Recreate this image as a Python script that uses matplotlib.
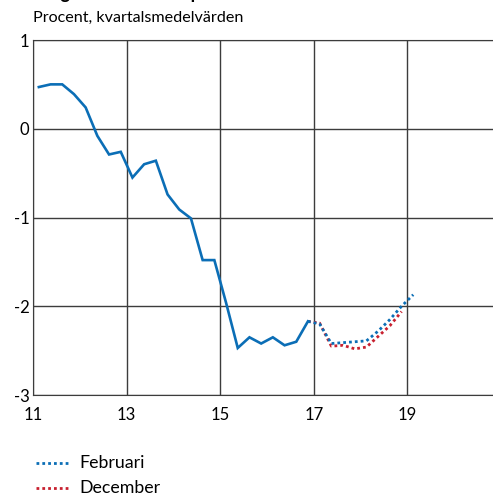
import matplotlib
matplotlib.use("Agg")
import matplotlib.pyplot as plt
import numpy as np

plt.rcParams['font.family'] = ['Lato', 'DejaVu Sans']

# Quarterly data (year fraction, mid-quarter)
hist_start = 11.125
hist_vals = [0.47, 0.50, 0.50, 0.39, 0.24, -0.08, -0.29, -0.26, -0.55, -0.40,
             -0.36, -0.74, -0.91, -1.01, -1.48, -1.48, -1.96, -2.47, -2.35, -2.42,
             -2.35, -2.44, -2.40, -2.17]
feb_vals = [-2.17, -2.20, -2.42, -2.41, -2.40, -2.39, -2.28, -2.15, -2.00, -1.87]
dec_vals = [-2.17, -2.19, -2.45, -2.44, -2.48, -2.46, -2.34, -2.22, -2.06]
fc_start = 16.875

x_ticks = [11, 13, 15, 17, 19]
y_ticks = [1, 0, -1, -2, -3]

blue = '#0b6eb6'
red = '#c8202f'

x_hist = hist_start + 0.25 * np.arange(len(hist_vals))
x_feb = fc_start + 0.25 * np.arange(len(feb_vals))
x_dec = fc_start + 0.25 * np.arange(len(dec_vals))

fig = plt.figure(figsize=(4.93, 4.95), dpi=100)
ax = fig.add_axes([33/493, 1-395/495, 1-33/493, (395-40)/495])

ax.plot(x_dec, dec_vals, color=red, lw=2.0, linestyle=(0, (1, 1.1)), zorder=3)
ax.plot(x_feb, feb_vals, color=blue, lw=2.0, linestyle=(0, (1, 1.1)), zorder=4)
ax.plot(x_hist, hist_vals, color=blue, lw=1.9, solid_joinstyle='miter', zorder=5)

ax.set_xlim(11, 11 + (493-33)/46.8)
ax.set_ylim(-3, 1)
ax.set_xticks(x_ticks)
ax.set_xticklabels([str(t) for t in x_ticks])
ax.set_yticks(y_ticks)
ax.set_yticklabels([str(t) for t in y_ticks])
ax.tick_params(length=0, labelsize=12, colors='black')
ax.tick_params(axis='x', pad=9)
ax.tick_params(axis='y', pad=2.5)
ax.grid(True, color='#3c3c3c', lw=1.0)
ax.set_axisbelow(True)
ax.spines['right'].set_visible(False)
for s in ['top', 'left', 'bottom']:
    ax.spines[s].set_color('#3c3c3c')

fig.text(33/493, 1-18/495, 'Procent, kvartalsmedelvärden', fontsize=11.6,
         ha='left', va='center')
fig.text(33/493, 1+6/495, 'Diagram 10. Real reporänta', fontsize=13, fontweight='bold',
         ha='left', va='center')

# Legend
for i, (lab, col) in enumerate([('Februari', blue), ('December', red)]):
    yy = 1 - (463 + i*25)/495
    fig.add_artist(plt.Line2D([36/493, 70/493], [yy, yy], color=col, lw=2.0,
                              linestyle=(0, (1, 1.1)), transform=fig.transFigure))
    fig.text(79/493, yy, lab, fontsize=12.8, ha='left', va='center')

fig.savefig('out.png', dpi=100)
